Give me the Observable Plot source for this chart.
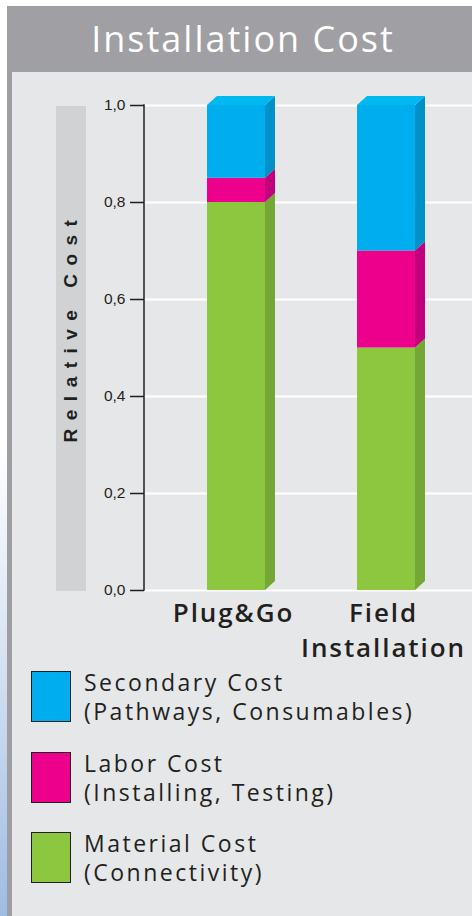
<!DOCTYPE html>
<html><head><meta charset="utf-8">
<script src="https://cdn.jsdelivr.net/npm/d3@7"></script>
<script src="https://cdn.jsdelivr.net/npm/@observablehq/plot@0.6"></script>
<style>
html,body{margin:0;padding:0;width:472px;height:916px;overflow:hidden;background:#fff;}
#root{position:relative;width:472px;height:916px;}
#strip{position:absolute;left:0;top:0;width:7px;height:916px;background:linear-gradient(to bottom,#fff 0%,#fff 48%,#e9eff8 62%,#9dbde2 100%);}
#border{position:absolute;left:7px;top:6px;width:465px;height:910px;background:#9e9ea2;}
#header{position:absolute;left:7px;top:6px;width:465px;height:66px;background:#a09fa3;color:#fff;font-family:"Open Sans",sans-serif;font-size:36px;letter-spacing:2px;text-align:center;line-height:66px;padding-left:7px;box-sizing:border-box;}
#panel{position:absolute;left:12px;top:72px;width:460px;height:844px;background:#e6e7e9;}
#band{position:absolute;left:56px;top:106px;width:30px;height:485px;background:#d1d2d4;}
#ylabel{position:absolute;left:71px;top:327px;transform:translate(-50%,-50%) rotate(-90deg);white-space:nowrap;font-family:"Liberation Sans",Arial,sans-serif;font-weight:bold;font-size:19px;letter-spacing:8.5px;color:#231f20;}
#chart{position:absolute;left:0;top:72px;}
#chart g[aria-label="text"] text{letter-spacing:1.9px;}
.item{position:absolute;left:31px;}
.sw{position:absolute;left:0;top:0;width:40px;height:51px;box-sizing:border-box;border:1.5px solid #231f20;}
.txt{position:absolute;left:53px;top:-3px;white-space:nowrap;font-family:"Open Sans",sans-serif;font-weight:500;font-size:23px;letter-spacing:2.5px;line-height:29px;color:#231f20;}
</style>
</head><body>
<div id="root">
  <div id="strip"></div>
  <div id="border"></div>
  <div id="panel"></div>
  <div id="header">Installation Cost</div>
  <div id="band"></div>
  <div id="ylabel">Relative Cost</div>
  <div id="chart"></div>
  <div id="legend"></div>
</div>
<script>
// ---- data ----
const categories = ["Plug&Go", "Field Installation"];
const categoryLabels = ["Plug&Go", "Field\nInstallation"];
const series = ["Material Cost", "Labor Cost", "Secondary Cost"]; // bottom to top
const seriesDetail = ["(Connectivity)", "(Installing, Testing)", "(Pathways, Consumables)"];
const plugAndGo = [0.80, 0.05, 0.15];
const fieldInstallation = [0.50, 0.20, 0.30];
const yTicks = [0, 0.2, 0.4, 0.6, 0.8, 1.0];
const colors = ["#8dc63f", "#ec008c", "#00aeef"];
const sideColors = ["#74a735", "#c2007c", "#0091c9"];
const topColor = "#00b9f1";

const values = [plugAndGo, fieldInstallation];
const rows = [];
categories.forEach((c, i) => series.forEach((s, j) => rows.push({category: c, series: s, value: values[i][j]})));

const W = 472, H = 600, DEPTH_X = 10, DEPTH_Y = 9;

function extrusion(...args) {
  let scales = args[1], dims = args[3];
  if (!scales || typeof scales.x !== "function") { scales = args[0]; dims = args[1]; }
  const x = scales.x, y = scales.y;
  const bw = typeof x.bandwidth === "function" ? x.bandwidth() : scales.scales.x.bandwidth;
  const g = d3.create("svg:g");
  // axis spine
  g.append("line")
    .attr("x1", dims.marginLeft).attr("x2", dims.marginLeft)
    .attr("y1", y(yTicks[yTicks.length - 1]) - 0.75).attr("y2", y(0) + 0.75)
    .attr("stroke", "#231f20").attr("stroke-width", 1.5);
  categories.forEach((c, i) => {
    const x0 = x(c), x1 = x0 + bw;
    let cum = 0;
    values[i].forEach((v, j) => {
      const a = y(cum), b = y(cum + v);
      g.append("polygon")
        .attr("points", [[x1, b], [x1 + DEPTH_X, b - DEPTH_Y], [x1 + DEPTH_X, a - DEPTH_Y], [x1, a]].join(" "))
        .attr("fill", sideColors[j]);
      cum += v;
    });
    const t = y(cum);
    g.append("polygon")
      .attr("points", [[x0, t], [x0 + DEPTH_X, t - DEPTH_Y], [x1 + DEPTH_X, t - DEPTH_Y], [x1, t]].join(" "))
      .attr("fill", topColor);
  });
  return g.node();
}

const plot = Plot.plot({
  width: W,
  height: H,
  marginLeft: 144,
  marginRight: 0,
  marginTop: 33,
  marginBottom: 82,
  style: {background: "transparent", fontFamily: "Liberation Sans, Arial, sans-serif", overflow: "visible"},
  x: {type: "band", domain: categories, range: [144, 478.5], paddingInner: 0.6146, paddingOuter: 0.4186, align: 0.5, axis: null},
  y: {domain: [0, 1], axis: null},
  color: {domain: series, range: colors},
  marks: [
    Plot.ruleY(yTicks, {stroke: "#ffffff", strokeWidth: 2}),
    Plot.barY(rows, {x: "category", y: "value", fill: "series", order: series, inset: 0}),
    extrusion,
    Plot.axisY(yTicks, {
      anchor: "left", tickSize: 14, tickPadding: 5, fontSize: 15.5,
      tickFormat: d => d.toFixed(1).replace(".", ","),
      stroke: "#231f20", strokeWidth: 1.5, fill: "#231f20", label: null
    }),
    Plot.text(categories, {
      x: d => d, text: (d, i) => categoryLabels[i],
      frameAnchor: "bottom", lineAnchor: "top", dy: 7, dx: -3,
      fontSize: 26, fontWeight: 600, fill: "#231f20",
      fontFamily: "Open Sans, sans-serif", lineHeight: 1.33
    })
  ]
});
document.getElementById("chart").appendChild(plot);

// ---- legend (top to bottom: reverse of stack order) ----
const legend = document.getElementById("legend");
const legendTops = [671, 752, 832];
series.slice().reverse().forEach((s, k) => {
  const j = series.length - 1 - k;
  const item = document.createElement("div");
  item.className = "item";
  item.style.top = legendTops[k] + "px";
  const sw = document.createElement("div");
  sw.className = "sw";
  sw.style.background = colors[j];
  const tx = document.createElement("div");
  tx.className = "txt";
  tx.appendChild(document.createTextNode(s));
  tx.appendChild(document.createElement("br"));
  tx.appendChild(document.createTextNode(seriesDetail[j]));
  item.appendChild(sw);
  item.appendChild(tx);
  legend.appendChild(item);
});
</script>
</body></html>
